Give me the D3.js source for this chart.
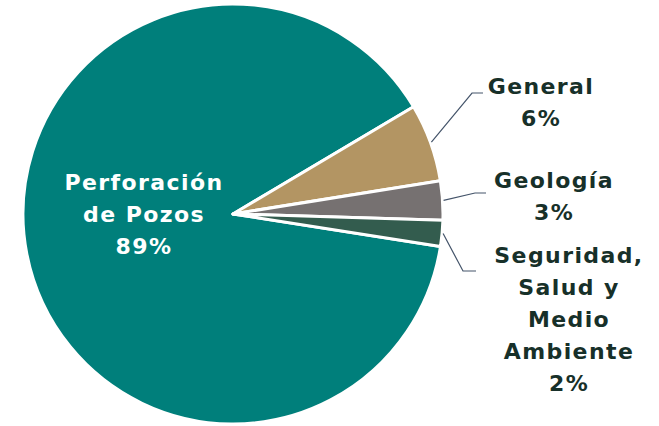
<!DOCTYPE html>
<html><head><meta charset="utf-8">
<script src="https://cdn.jsdelivr.net/npm/d3@7"></script>
<style>body{margin:0;background:#fff}svg{display:block}text{font-family:"DejaVu Sans",sans-serif;font-weight:700;letter-spacing:1.4px}</style>
</head><body><svg width="659" height="426"></svg>
<script>
const categories = ["Perforación de Pozos", "General", "Geología", "Seguridad, Salud y Medio Ambiente"];
const values = [89, 6, 3, 2];
const labelLines = [["Perforación","de Pozos","89%"],["General","6%"],["Geología","3%"],["Seguridad,","Salud y","Medio","Ambiente","2%"]];
const colors = ["#007f7b","#b39563","#767171","#335c4e"];

const svg = d3.select("svg");
const cx = 233, cy = 214, r = 210;
const g = svg.append("g").attr("transform",`translate(${cx},${cy})`);
const start = 98.9*Math.PI/180;
const pie = d3.pie().sort(null).startAngle(start).endAngle(start+2*Math.PI);
const arcs = pie(values);
const arc = d3.arc().innerRadius(0).outerRadius(r);
g.selectAll("path").data(arcs).enter().append("path")
  .attr("d",arc).attr("fill",(d,i)=>colors[i]).attr("stroke","#fff").attr("stroke-width",3).attr("stroke-linejoin","round");

const fs = 22, lh = 32;
g.append("text").attr("text-anchor","middle").attr("fill","#fff").attr("font-size",fs)
  .selectAll("tspan").data(labelLines[0]).enter().append("tspan")
  .attr("x",144-cx).attr("y",(d,i)=>190-cy+i*lh).text(d=>d);

const outer = [
  {i:1, elbow:[472,93], end:483, tx:541, ty:94},
  {i:2, elbow:[475,193], end:486, tx:554, ty:188},
  {i:3, elbow:[463,271], end:476, tx:569, ty:263}
];
outer.forEach(o=>{
  const a = arcs[o.i];
  const mid = (a.startAngle+a.endAngle)/2;
  const p0 = [cx + (r+1)*Math.sin(mid), cy - (r+1)*Math.cos(mid)];
  svg.append("polyline").attr("points",[p0,o.elbow,[o.end,o.elbow[1]]].map(p=>p.join(",")).join(" "))
    .attr("fill","none").attr("stroke","#44546a").attr("stroke-width",1.2);
  svg.append("text").attr("text-anchor","middle").attr("fill","#173029").attr("font-size",fs)
    .selectAll("tspan").data(labelLines[o.i]).enter().append("tspan")
    .attr("x",o.tx).attr("y",(d,k)=>o.ty+k*lh).text(d=>d);
});
</script></body></html>
